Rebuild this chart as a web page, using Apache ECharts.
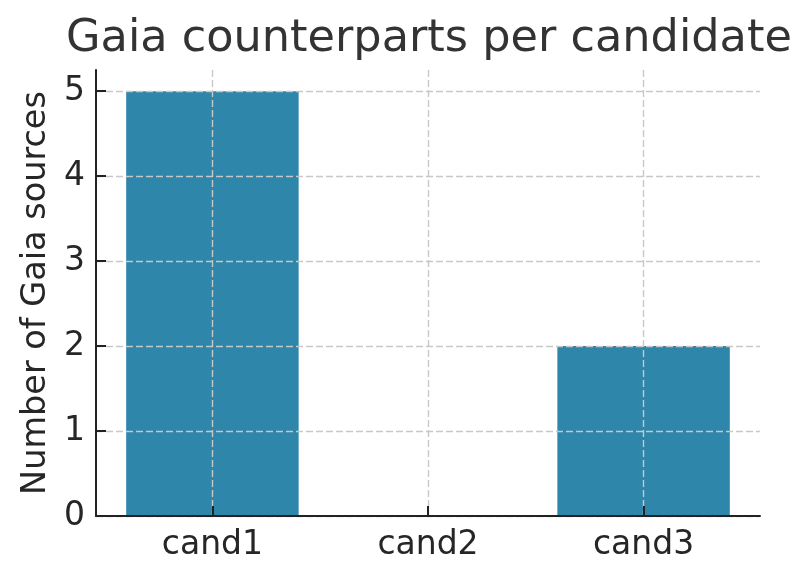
<!DOCTYPE html>
<html>
<head>
<meta charset="utf-8">
<script src="https://cdn.jsdelivr.net/npm/echarts@6/dist/echarts.min.js"></script>
<style>
html,body{margin:0;padding:0;background:#fff;}
#chart{width:809px;height:579px;}
</style>
</head>
<body>
<div id="chart"></div>
<script>
const categories = ['cand1', 'cand2', 'cand3'];
const counts = [5, 0, 2];
const yTicks = [0, 1, 2, 3, 4, 5];
const titleText = 'Gaia counterparts per candidate';
const yName = 'Number of Gaia sources';

const chart = echarts.init(document.getElementById('chart'), null, {renderer: 'canvas'});
const font = 'DejaVu Sans';
const xIdx = categories.map((c, i) => i);
const gridLine = {show: true, lineStyle: {color: '#c8c8c8', width: 1.4, type: [7, 3]}};

chart.setOption({
  backgroundColor: '#ffffff',
  animation: false,
  title: {
    text: titleText,
    left: 61,
    top: 12,
    textStyle: {fontFamily: font, fontSize: 44.6, fontWeight: 'normal', color: '#333333'}
  },
  grid: {left: 96, right: 49, top: 70, bottom: 63, containLabel: false},
  xAxis: {
    type: 'value',
    min: -0.54,
    max: 2.54,
    z: 3,
    axisLine: {show: true, onZero: false, lineStyle: {color: '#222222', width: 2}},
    axisTick: {show: true, inside: true, length: 10, customValues: xIdx, lineStyle: {color: '#222222', width: 2}},
    axisLabel: {
      show: true, margin: 13, customValues: xIdx,
      fontFamily: font, fontSize: 33, color: '#262626',
      formatter: v => categories[Math.round(v)] ?? ''
    },
    splitLine: gridLine
  },
  yAxis: {
    type: 'value',
    min: 0,
    max: 5.25,
    z: 3,
    name: yName,
    nameLocation: 'middle',
    nameGap: 43,
    nameTextStyle: {fontFamily: font, fontSize: 33.5, color: '#262626'},
    axisLine: {show: true, onZero: false, lineStyle: {color: '#222222', width: 2}},
    axisTick: {show: true, inside: true, length: 10, customValues: yTicks, lineStyle: {color: '#222222', width: 2}},
    axisLabel: {show: true, margin: 11, customValues: yTicks, fontFamily: font, fontSize: 33, color: '#262626'},
    splitLine: gridLine
  },
  series: [{
    type: 'bar',
    data: counts.map((v, i) => [i, v]),
    barWidth: '80%',
    itemStyle: {color: '#2E86AB'},
    z: 2
  }]
});
</script>
</body>
</html>
